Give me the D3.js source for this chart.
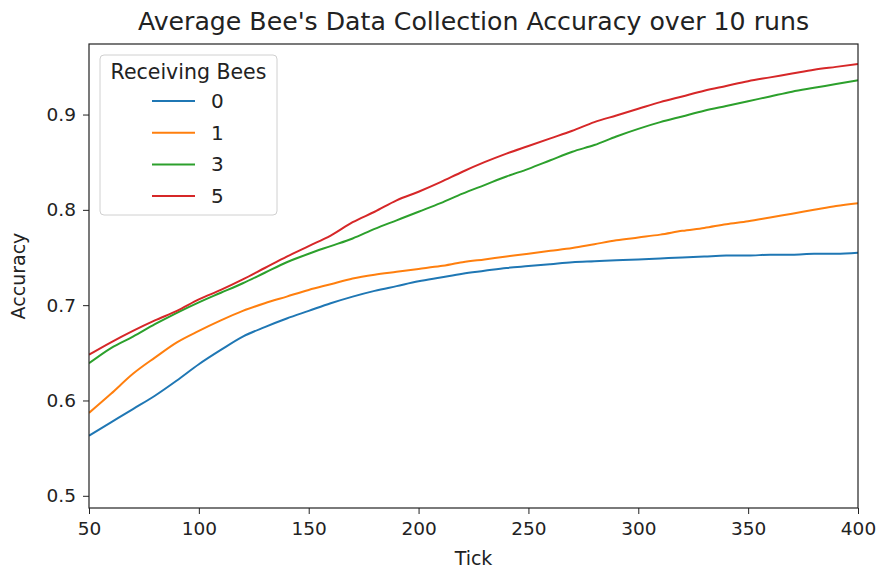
<!DOCTYPE html>
<html lang="en">
<head>
<meta charset="UTF-8">
<title>Average Bee's Data Collection Accuracy</title>
<style>
  html, body { margin: 0; padding: 0; background: #fff; overflow: hidden; }
  svg text { font-family: "DejaVu Sans", sans-serif; fill: #222; }
</style>
</head>
<body>
<svg id="chart" width="881" height="571"></svg>
<script src="https://cdn.jsdelivr.net/npm/d3@7"></script>
<script>
// ticks sampled every 10
const ticks = [50, 60, 70, 80, 90, 100, 110, 120, 130, 140, 150, 160, 170, 180, 190, 200, 210, 220,
  230, 240, 250, 260, 270, 280, 290, 300, 310, 320, 330, 340, 350, 360, 370, 380, 390, 400];

const bees0 = [0.563, 0.577, 0.591, 0.605, 0.621, 0.638, 0.653, 0.667, 0.677, 0.686, 0.694, 0.702,
  0.709, 0.715, 0.720, 0.725, 0.729, 0.733, 0.736, 0.739, 0.741, 0.743, 0.745, 0.746, 0.747, 0.748,
  0.749, 0.750, 0.751, 0.752, 0.752, 0.753, 0.753, 0.754, 0.754, 0.755];
const bees1 = [0.587, 0.607, 0.628, 0.645, 0.661, 0.673, 0.684, 0.694, 0.702, 0.709, 0.716, 0.722,
  0.728, 0.732, 0.735, 0.738, 0.741, 0.745, 0.748, 0.751, 0.754, 0.757, 0.760, 0.764, 0.768, 0.771,
  0.774, 0.778, 0.781, 0.785, 0.788, 0.792, 0.796, 0.800, 0.804, 0.807];
const bees3 = [0.639, 0.655, 0.667, 0.680, 0.692, 0.703, 0.713, 0.723, 0.734, 0.745, 0.754, 0.762,
  0.770, 0.780, 0.789, 0.798, 0.807, 0.817, 0.826, 0.835, 0.843, 0.852, 0.861, 0.868, 0.877, 0.885,
  0.892, 0.898, 0.904, 0.909, 0.914, 0.919, 0.924, 0.928, 0.932, 0.936];
const bees5 = [0.648, 0.661, 0.673, 0.684, 0.694, 0.706, 0.716, 0.727, 0.739, 0.751, 0.762, 0.773,
  0.787, 0.798, 0.810, 0.819, 0.829, 0.840, 0.850, 0.859, 0.867, 0.875, 0.883, 0.892, 0.899, 0.906,
  0.913, 0.919, 0.925, 0.930, 0.935, 0.939, 0.943, 0.947, 0.950, 0.953];

const seriesNames = ["0", "1", "3", "5"];
const seriesValues = [bees0, bees1, bees3, bees5];
const colors = ["#1f77b4", "#ff7f0e", "#2ca02c", "#d62728"];

const xTicks = [50, 100, 150, 200, 250, 300, 350, 400];
const yTicks = [0.5, 0.6, 0.7, 0.8, 0.9];

const margin = { left: 89, right: 23, top: 44, bottom: 63 };
const W = 881, H = 571;
const svg = d3.select("#chart");

const x = d3.scaleLinear().domain([50, 400]).range([margin.left, W - margin.right]);
const y = d3.scaleLinear().domain([0.4872, 0.974]).range([H - margin.bottom, margin.top]);

svg.append("defs").append("clipPath").attr("id", "clip")
  .append("rect")
  .attr("x", margin.left).attr("y", margin.top)
  .attr("width", W - margin.left - margin.right)
  .attr("height", H - margin.top - margin.bottom);

// lines
const line = d3.line().x((d, i) => x(ticks[i])).y(d => y(d)).curve(d3.curveMonotoneX);
svg.append("g").attr("clip-path", "url(#clip)")
  .selectAll("path")
  .data(seriesValues)
  .join("path")
  .attr("d", d => line(d))
  .attr("fill", "none")
  .attr("stroke", (d, i) => colors[i])
  .attr("stroke-width", 2)
  .attr("stroke-linejoin", "round");

// axes
const xAxis = svg.append("g")
  .attr("transform", `translate(0,${H - margin.bottom})`)
  .call(d3.axisBottom(x).tickValues(xTicks).tickSize(6).tickPadding(8).tickSizeOuter(0));
const yAxis = svg.append("g")
  .attr("transform", `translate(${margin.left},0)`)
  .call(d3.axisLeft(y).tickValues(yTicks).tickFormat(d3.format(".1f")).tickSize(6).tickPadding(7).tickSizeOuter(0));
[xAxis, yAxis].forEach(g => {
  g.selectAll("text").style("font-size", "18.5px").attr("fill", "#222");
  g.selectAll("line").attr("stroke", "#222");
  g.select(".domain").remove();
});

// frame
svg.append("rect")
  .attr("x", margin.left).attr("y", margin.top)
  .attr("width", W - margin.left - margin.right)
  .attr("height", H - margin.top - margin.bottom)
  .attr("fill", "none").attr("stroke", "#222").attr("stroke-width", 1.2);

// title and labels
svg.append("text")
  .attr("x", (margin.left + W - margin.right) / 2).attr("y", 30)
  .attr("text-anchor", "middle").style("font-size", "25.2px")
  .text("Average Bee's Data Collection Accuracy over 10 runs");
svg.append("text")
  .attr("x", (margin.left + W - margin.right) / 2).attr("y", 565)
  .attr("text-anchor", "middle").style("font-size", "19px")
  .text("Tick");
svg.append("text")
  .attr("transform", `translate(25,${(margin.top + H - margin.bottom) / 2}) rotate(-90)`)
  .attr("text-anchor", "middle").style("font-size", "19px")
  .text("Accuracy");

// legend
const lg = svg.append("g").attr("transform", "translate(100,55)");
lg.append("rect")
  .attr("width", 177).attr("height", 160).attr("rx", 4)
  .attr("fill", "#fff").attr("fill-opacity", 0.8)
  .attr("stroke", "#d0d0d0");
lg.append("text").attr("x", 88.5).attr("y", 24)
  .attr("text-anchor", "middle").style("font-size", "20.5px")
  .text("Receiving Bees");
const items = lg.selectAll("g.item").data(seriesNames).join("g")
  .attr("class", "item")
  .attr("transform", (d, i) => `translate(0,${46 + i * 31.7})`);
items.append("line")
  .attr("x1", 52).attr("x2", 95)
  .attr("stroke", (d, i) => colors[i]).attr("stroke-width", 2);
items.append("text")
  .attr("x", 111).attr("y", 7)
  .style("font-size", "20px")
  .text(d => d);
</script>
</body>
</html>
